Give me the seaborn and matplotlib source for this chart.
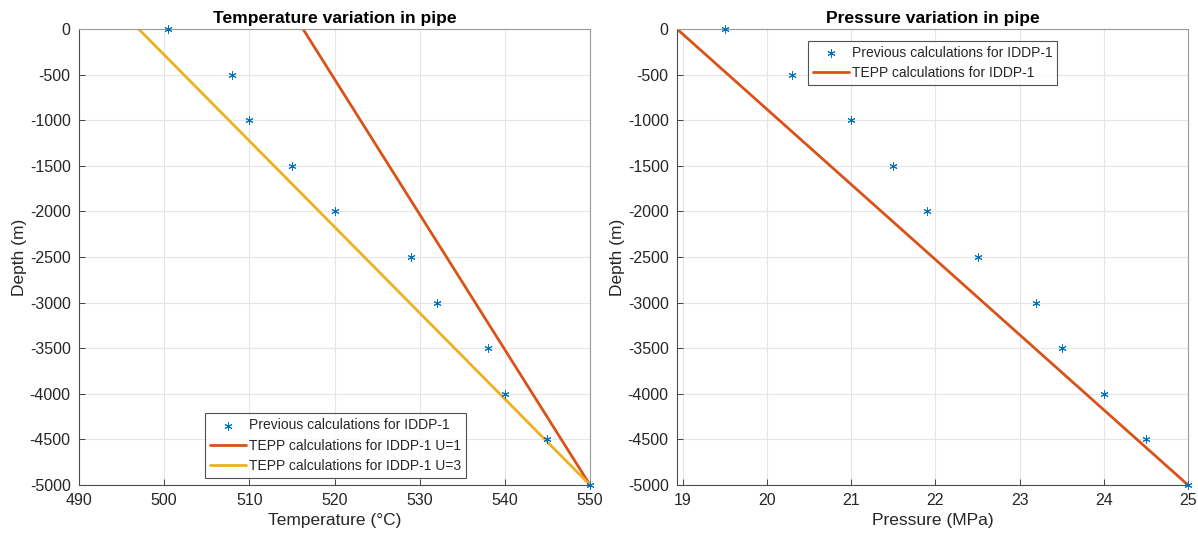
import numpy as np
import pandas as pd
import matplotlib
matplotlib.use("Agg")
import matplotlib.pyplot as plt
import seaborn as sns

# ---- data ----
depth = [0, -500, -1000, -1500, -2000, -2500, -3000, -3500, -4000, -4500, -5000]
prev_temp = [500.5, 508, 510, 515, 520, 529, 532, 538, 540, 545, 550]
prev_pres = [19.5, 20.3, 21.0, 21.5, 21.9, 22.5, 23.2, 23.5, 24.0, 24.5, 25.0]

tepp_depth = [0, -5000]
tepp_temp_u1 = [516.3, 550]
tepp_temp_u3 = [497.0, 550]
tepp_pres = [18.93, 25.0]

temp_ticks = [490, 500, 510, 520, 530, 540, 550]
pres_ticks = [19, 20, 21, 22, 23, 24, 25]
depth_ticks = [0, -500, -1000, -1500, -2000, -2500, -3000, -3500, -4000, -4500, -5000]

sns.set_theme(style="whitegrid")
plt.rcParams['font.family'] = ['Liberation Sans', 'DejaVu Sans']

BLUE = "#0072BD"
ORANGE = "#D95319"
YELLOW = "#EDB120"
AX_COL = "#4d4d4d"

fig = plt.figure(figsize=(11.98, 5.35), dpi=100)
W, H = 1198, 535
ax1 = fig.add_axes([79 / W, 1 - 485 / H, (590 - 79) / W, (485 - 29) / H])
ax2 = fig.add_axes([677 / W, 1 - 485 / H, (1188 - 677) / W, (485 - 29) / H])

asterisk = (6, 2, 0)

def style(ax, xticks, xlim, xlabel, title):
    ax.set_xlim(*xlim)
    ax.set_ylim(-5000, 0)
    ax.set_xticks(xticks)
    ax.set_yticks(depth_ticks)
    ax.set_yticklabels([str(d) for d in depth_ticks])
    ax.grid(True, color="#e6e6e6", linewidth=0.8)
    ax.set_facecolor("white")
    for name, s in ax.spines.items():
        s.set_visible(True)
        s.set_linewidth(0.8)
        s.set_color(AX_COL if name in ("left", "bottom") else "#9a9a9a")
    ax.tick_params(direction="in", length=4, width=0.6, colors="#262626",
                   labelsize=11.5, pad=6, top=False, right=False,
                   bottom=True, left=True)
    ax.set_xlabel(xlabel, fontsize=12.5, color="#262626", labelpad=3)
    ax.set_ylabel("Depth (m)", fontsize=12.5, color="#262626", labelpad=2)
    ax.set_title(title, fontsize=12.6, fontweight="bold", color="black", pad=4)

leg_kw = dict(fontsize=10, frameon=True, fancybox=False, edgecolor="#262626",
              handlelength=2.6, handletextpad=0.2, borderpad=0.35,
              labelspacing=0.45, borderaxespad=0.2)

# ---- left: temperature ----
sns.scatterplot(x=prev_temp, y=depth, ax=ax1, marker=asterisk, color=BLUE,
                s=28, linewidth=0.7, edgecolor=BLUE,
                label="Previous calculations for IDDP-1", zorder=3, clip_on=False)
sns.lineplot(x=tepp_temp_u1, y=tepp_depth, ax=ax1, color=ORANGE, linewidth=2,
             sort=False, estimator=None, label="TEPP calculations for IDDP-1 U=1")
sns.lineplot(x=tepp_temp_u3, y=tepp_depth, ax=ax1, color=YELLOW, linewidth=2,
             sort=False, estimator=None, label="TEPP calculations for IDDP-1 U=3")
style(ax1, temp_ticks, (490, 550), "Temperature (\u00b0C)", "Temperature variation in pipe")
leg1 = ax1.legend(loc="lower center", bbox_to_anchor=(0.502, 0.01), **leg_kw)
leg1.get_frame().set_linewidth(0.8)

# ---- right: pressure ----
sns.scatterplot(x=prev_pres, y=depth, ax=ax2, marker=asterisk, color=BLUE,
                s=28, linewidth=0.7, edgecolor=BLUE,
                label="Previous calculations for IDDP-1", zorder=3, clip_on=False)
sns.lineplot(x=tepp_pres, y=tepp_depth, ax=ax2, color=ORANGE, linewidth=2,
             sort=False, estimator=None, label="TEPP calculations for IDDP-1")
style(ax2, pres_ticks, (18.93, 25.0), "Pressure (MPa)", "Pressure variation in pipe")
leg2 = ax2.legend(loc="upper center", bbox_to_anchor=(0.5, 0.98), **leg_kw)
leg2.get_frame().set_linewidth(0.8)

fig.savefig("out.png", dpi=100)
